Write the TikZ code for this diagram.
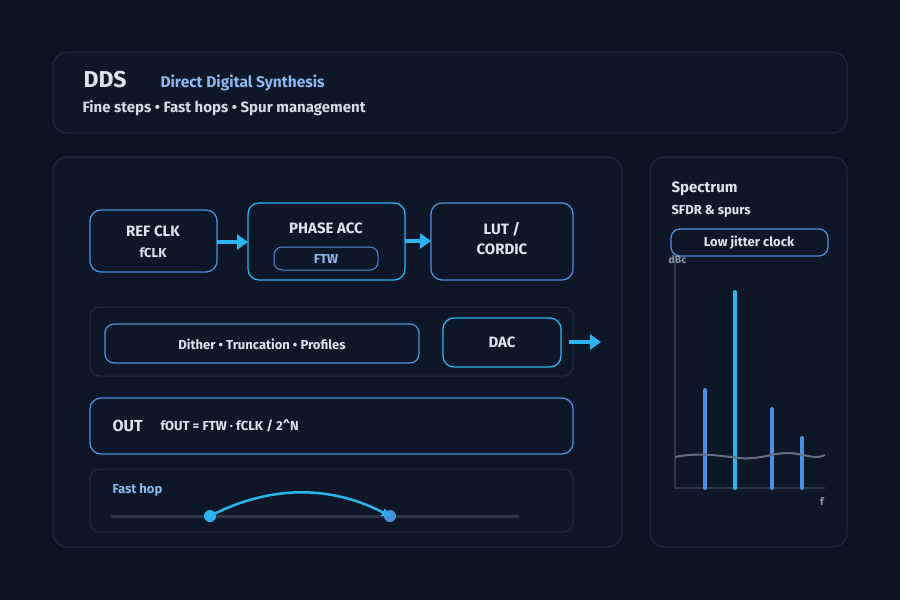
\documentclass[tikz,border=0pt]{standalone}
\usepackage{fontspec}
\setmainfont{Fira Sans}
\usetikzlibrary{arrows.meta}
\definecolor{bgc}{HTML}{0C1322}
\definecolor{panel}{HTML}{0E1727}
\definecolor{edge}{HTML}{1F2D3D}
\definecolor{blu}{HTML}{4A8FE0}
\definecolor{cyn}{HTML}{2AB4F2}
\definecolor{txt}{HTML}{DDE3EE}
\definecolor{lbl}{HTML}{8AB8F0}
\definecolor{dim}{HTML}{2C3848}
\definecolor{gry}{HTML}{8A96A8}

\tikzset{
	panel/.style={draw=edge, fill=panel, rounded corners=14pt, line width=1pt},
	box/.style={draw=blu, rounded corners=11pt, line width=1.3pt},
	hot/.style={draw=cyn, rounded corners=11pt, line width=1.3pt},
	txt/.style={text=txt, font=\bfseries\fontsize{15}{17}\selectfont},
	small/.style={font=\bfseries\fontsize{13}{15}\selectfont},
	flow/.style={cyn, line width=4pt, -{Triangle[length=11pt,width=15pt]}},
	bar/.style={line width=4pt, line cap=round}
}

\begin{document}
\begin{tikzpicture}[x=1pt, y=-1pt]
	\fill [bgc] (0,0) rectangle (900,600);
	\useasboundingbox (0,0) rectangle (900,600);
	% header
	\draw [panel] (53,52) rectangle (847,133);
	\node [txt, anchor=west, font=\bfseries\fontsize{23}{26}\selectfont] (dds) at (80,80) {DDS};
	\node [anchor=west, text=lbl, font=\bfseries\fontsize{15.5}{18}\selectfont] (dsub) at (157,83) {Direct Digital Synthesis};
	\node [anchor=west, text=txt!90!gray, font=\bfseries\fontsize{15}{17}\selectfont] (tag) at (79,108) {Fine steps • Fast hops • Spur management};
	% panels
	\draw [panel] (53,157) rectangle (622,547);
	\draw [panel] (650,157) rectangle (847,547);
	% chain
	\draw [box] (90,210) rectangle (217,272);
	\node [txt] (ref) at (153,231) {REF CLK};
	\node [txt, small] (fclk) at (153,253) {fCLK};
	\draw [hot] (248,203) rectangle (405,280);
	\node [txt] (acc) at (326,228) {PHASE ACC};
	\draw [box, rounded corners=8pt, line width=1pt] (274,247) rectangle (378,270);
	\node [text=lbl, small] (ftw) at (326,259) {FTW};
	\draw [box] (431,203) rectangle (573,280);
	\node [txt, align=center, font=\bfseries\fontsize{15}{20}\selectfont] (lut) at (502,239) {LUT /\\CORDIC};
	\coordinate (a1) at (217,242);
	\coordinate (a2) at (248,242);
	\coordinate (b1) at (405,241);
	\coordinate (b2) at (431,241);
	\draw [flow] (a1) -- (a2);
	\draw [flow] (b1) -- (b2);
	% dither row
	\draw [panel, rounded corners=10pt] (90,307) rectangle (573,376);
	\draw [box, rounded corners=9pt] (105,324) rectangle (419,363);
	\node [txt, small] (dith) at (262,344) {Dither • Truncation • Profiles};
	\draw [hot] (443,318) rectangle (561,367);
	\node [txt] (dac) at (502,342) {DAC};
	\coordinate (c1) at (569,342);
	\coordinate (c2) at (601,342);
	\draw [flow] (c1) -- (c2);
	% output
	\draw [box] (90,398) rectangle (573,454);
	\node [txt, anchor=west, font=\bfseries\fontsize{16}{18}\selectfont] (out) at (109,426) {OUT};
	\node [txt, anchor=west, small] (fout) at (157,426) {fOUT = FTW · fCLK / 2\^{}N};
	% fast hop
	\draw [panel, rounded corners=10pt] (90,469) rectangle (573,532);
	\node [anchor=west, text=lbl, small] (hop) at (109,490) {Fast hop};
	\draw [dim, line width=3pt, line cap=round] (112,516) -- (518,516);
	\node [circle, fill=cyn, inner sep=0pt, minimum size=12pt] (p1) at (210,516) {};
	\node [circle, fill=blu, inner sep=0pt, minimum size=12pt] (p2) at (390,516) {};
	\draw [cyn, line width=2.5pt, -{Triangle[length=8pt,width=8pt]}] (p1.center) .. controls (270,485) and (330,485) .. (p2.center);
	% spectrum
	\node [txt, anchor=west] (spec) at (668,189) {Spectrum};
	\node [txt, anchor=west, small] (sfdr) at (668,211) {SFDR \& spurs};
	\draw [box, rounded corners=9pt] (671,229) rectangle (828,256);
	\node [txt, small] (jit) at (749,243) {Low jitter clock};
	\node [text=gry, anchor=east, font=\bfseries\fontsize{10.5}{12}\selectfont] (dbc) at (690,260) {dBc};
	\node [text=gry, font=\bfseries\fontsize{10.5}{12}\selectfont] (fax) at (822,502) {f};
	\draw [dim, line width=2pt] (675,262) -- (675,488) -- (825,488);
	\draw [bar, blu] (705,488) -- (705,390);
	\draw [bar, cyn] (735,488) -- (735,292);
	\draw [bar, blu] (772,488) -- (772,409);
	\draw [bar, blu] (802,488) -- (802,438);
	\draw [gry!60!dim, line width=2pt] (675,457) .. controls (700,452) and (720,456) .. (740,458)
		.. controls (760,460) and (775,452) .. (790,453) .. controls (805,454) and (815,460) .. (825,455);
\end{tikzpicture}
\end{document}
